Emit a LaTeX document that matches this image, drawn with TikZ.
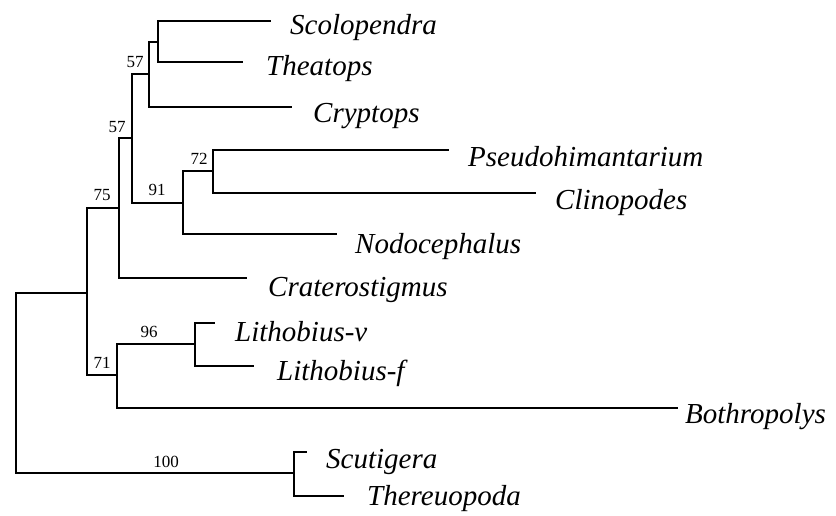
\documentclass[tikz,border=0pt]{standalone}
\usepackage{fontspec}
\setmainfont{Liberation Serif}
\begin{document}
\begin{tikzpicture}[x=1pt,y=-1pt,
  br/.style={line width=2.2pt, line cap=rect, line join=miter},
  taxon/.style={anchor=base west, inner sep=0pt, font=\fontsize{29}{29}\selectfont\itshape},
  boot/.style={inner sep=0pt, font=\fontsize{17}{17}\selectfont}]
\useasboundingbox (0,0) rectangle (836,516);
% internal nodes
\coordinate (root) at (16,293);
\coordinate (nA)   at (87,293);
\coordinate (n75)  at (119,208);
\coordinate (n57b) at (132,138);
\coordinate (n57a) at (149,74);
\coordinate (nST)  at (158,42);
\coordinate (n91)  at (183,203);
\coordinate (n72)  at (213,171);
\coordinate (n71)  at (117,375);
\coordinate (n96)  at (195,344);
\coordinate (nSc)  at (294,473);
% leaf tips
\coordinate (tScol)  at (270,21);
\coordinate (tTheat) at (242,62);
\coordinate (tCryp)  at (291,107);
\coordinate (tPseu)  at (448,150);
\coordinate (tClin)  at (535,193);
\coordinate (tNodo)  at (336,234);
\coordinate (tCrat)  at (246,278);
\coordinate (tLv)    at (214,323);
\coordinate (tLf)    at (253,366);
\coordinate (tBoth)  at (677,408);
\coordinate (tScut)  at (306,452);
\coordinate (tTher)  at (343,496);
% branches
\draw[br] (root) |- (nA);
\draw[br] (root) |- (nSc);
\draw[br] (nA) |- (n75);
\draw[br] (nA) |- (n71);
\draw[br] (n75) |- (n57b);
\draw[br] (n75) |- (tCrat);
\draw[br] (n57b) |- (n57a);
\draw[br] (n57b) |- (n91);
\draw[br] (n57a) |- (nST);
\draw[br] (n57a) |- (tCryp);
\draw[br] (nST) |- (tScol);
\draw[br] (nST) |- (tTheat);
\draw[br] (n91) |- (n72);
\draw[br] (n91) |- (tNodo);
\draw[br] (n72) |- (tPseu);
\draw[br] (n72) |- (tClin);
\draw[br] (n71) |- (n96);
\draw[br] (n71) |- (tBoth);
\draw[br] (n96) |- (tLv);
\draw[br] (n96) |- (tLf);
\draw[br] (nSc) |- (tScut);
\draw[br] (nSc) |- (tTher);
% taxa
\node[taxon] (Scol)  at (290,35)  {Scolopendra};
\node[taxon] (Theat) at (266,76)  {Theatops};
\node[taxon] (Cryp)  at (313,123) {Cryptops};
\node[taxon] (Pseu)  at (468,167) {Pseudohimantarium};
\node[taxon] (Clin)  at (555,210) {Clinopodes};
\node[taxon] (Nodo)  at (355,253) {Nodocephalus};
\node[taxon] (Crat)  at (268,296) {Craterostigmus};
\node[taxon] (Lv)    at (235,341) {Lithobius-v};
\node[taxon] (Lf)    at (277,380) {Lithobius-f};
\node[taxon] (Both)  at (685,423) {Bothropolys};
\node[taxon] (Scut)  at (326,468) {Scutigera};
\node[taxon] (Ther)  at (367,505) {Thereuopoda};
% bootstrap values
\node[boot] (b57a) at (135,62)  {57};
\node[boot] (b57b) at (117,127) {57};
\node[boot] (b72)  at (199,159) {72};
\node[boot] (b91)  at (157,190) {91};
\node[boot] (b75)  at (102,195) {75};
\node[boot] (b96)  at (149,332) {96};
\node[boot] (b71)  at (102,363) {71};
\node[boot] (b100) at (166,462) {100};
\end{tikzpicture}
\end{document}
